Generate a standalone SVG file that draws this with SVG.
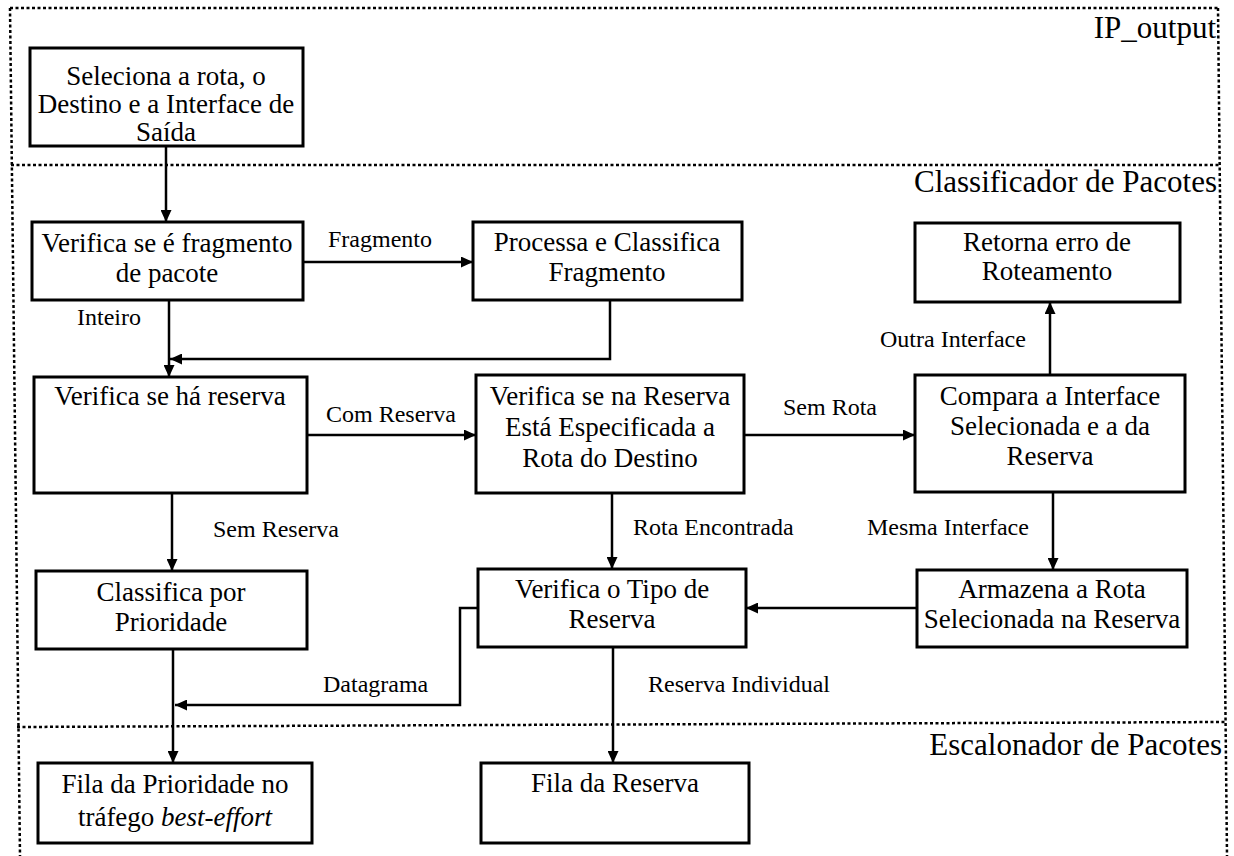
<svg xmlns="http://www.w3.org/2000/svg" width="1234" height="856" viewBox="0 0 1234 856">
  <style>
    .zone { fill: none; stroke: #000; stroke-width: 2.5; stroke-dasharray: 3 2.5; }
    .box { fill: #fff; stroke: #000; stroke-width: 3; }
    .node { font-family: "Liberation Serif", "Times New Roman", serif; font-size: 27px; fill: #000; text-anchor: middle; }
    .lbl { font-family: "Liberation Serif", "Times New Roman", serif; font-size: 24px; fill: #000; }
    .title { font-family: "Liberation Serif", "Times New Roman", serif; font-size: 31px; fill: #000; text-anchor: end; }
    .conn { fill: none; stroke: #000; stroke-width: 2.5; }
  </style>
  <defs>
    <marker id="arrow" viewBox="0 0 12 11" refX="12" refY="5.5" markerWidth="12" markerHeight="11" markerUnits="userSpaceOnUse" orient="auto">
      <path d="M0,0 L12,5.5 L0,11 Z" fill="#000"/>
    </marker>
  </defs>

  <rect width="1234" height="856" fill="#fff"/>

  <!-- processing zones -->
  <g id="zones">
    <path class="zone" d="M10,8 L1218,8"/>
    <path class="zone" d="M10,8 L20,856"/>
    <path class="zone" d="M1218,8 L1227,856"/>
    <path class="zone" d="M11,165 L1220,165"/>
    <path class="zone" d="M17,727 L1226,722"/>
    <text class="title" x="1216" y="38">IP_output</text>
    <text class="title" x="1217" y="192">Classificador de Pacotes</text>
    <text class="title" x="1222" y="755">Escalonador de Pacotes</text>
  </g>

  <!-- connectors -->
  <g id="connectors">
    <path class="conn" d="M166,146 L166,222" marker-end="url(#arrow)"/>
    <path class="conn" d="M303,262 L473,262" marker-end="url(#arrow)"/>
    <text class="lbl" x="328" y="247">Fragmento</text>
    <path class="conn" d="M169,300 L169,377" marker-end="url(#arrow)"/>
    <text class="lbl" x="77" y="325">Inteiro</text>
    <path class="conn" d="M610,300 L610,359 L170,359" marker-end="url(#arrow)"/>
    <path class="conn" d="M307,435 L476,435" marker-end="url(#arrow)"/>
    <text class="lbl" x="326" y="422">Com Reserva</text>
    <path class="conn" d="M744,435 L915,435" marker-end="url(#arrow)"/>
    <text class="lbl" x="783" y="415">Sem Rota</text>
    <path class="conn" d="M1050,375 L1050,302" marker-end="url(#arrow)"/>
    <text class="lbl" x="880" y="347">Outra Interface</text>
    <path class="conn" d="M172,493 L172,571" marker-end="url(#arrow)"/>
    <text class="lbl" x="213" y="537">Sem Reserva</text>
    <path class="conn" d="M612,493 L612,569" marker-end="url(#arrow)"/>
    <text class="lbl" x="633" y="535">Rota Encontrada</text>
    <path class="conn" d="M1053,492 L1053,570" marker-end="url(#arrow)"/>
    <text class="lbl" x="867" y="535">Mesma Interface</text>
    <path class="conn" d="M917,608 L746,608" marker-end="url(#arrow)"/>
    <path class="conn" d="M173,649 L173,763" marker-end="url(#arrow)"/>
    <path class="conn" d="M478,608 L460,608 L460,705 L175,705" marker-end="url(#arrow)"/>
    <text class="lbl" x="323" y="692">Datagrama</text>
    <path class="conn" d="M613,647 L613,763" marker-end="url(#arrow)"/>
    <text class="lbl" x="648" y="692">Reserva Individual</text>
  </g>

  <!-- nodes -->
  <g id="seleciona">
    <rect class="box" x="30" y="48" width="273" height="98"/>
    <text class="node" x="166" y="85">Seleciona a rota, o</text>
    <text class="node" x="166" y="113">Destino e a Interface de</text>
    <text class="node" x="166" y="141">Saída</text>
  </g>
  <g id="verifica-fragmento">
    <rect class="box" x="32" y="222" width="271" height="78"/>
    <text class="node" x="167" y="252">Verifica se é fragmento</text>
    <text class="node" x="167" y="282">de pacote</text>
  </g>
  <g id="processa-fragmento">
    <rect class="box" x="473" y="222" width="269" height="78"/>
    <text class="node" x="607" y="251">Processa e Classifica</text>
    <text class="node" x="607" y="281">Fragmento</text>
  </g>
  <g id="retorna-erro">
    <rect class="box" x="915" y="223" width="265" height="79"/>
    <text class="node" x="1047" y="251">Retorna erro de</text>
    <text class="node" x="1047" y="280">Roteamento</text>
  </g>
  <g id="verifica-reserva">
    <rect class="box" x="34" y="377" width="273" height="116"/>
    <text class="node" x="170" y="405">Verifica se há reserva</text>
  </g>
  <g id="verifica-rota">
    <rect class="box" x="476" y="375" width="268" height="118"/>
    <text class="node" x="610" y="405">Verifica se na Reserva</text>
    <text class="node" x="610" y="436">Está Especificada a</text>
    <text class="node" x="610" y="467">Rota do Destino</text>
  </g>
  <g id="compara-interface">
    <rect class="box" x="915" y="375" width="270" height="117"/>
    <text class="node" x="1050" y="405">Compara a Interface</text>
    <text class="node" x="1050" y="435">Selecionada e a da</text>
    <text class="node" x="1050" y="465">Reserva</text>
  </g>
  <g id="classifica-prioridade">
    <rect class="box" x="36" y="571" width="271" height="78"/>
    <text class="node" x="171" y="601">Classifica por</text>
    <text class="node" x="171" y="631">Prioridade</text>
  </g>
  <g id="verifica-tipo">
    <rect class="box" x="478" y="569" width="268" height="78"/>
    <text class="node" x="612" y="598">Verifica o Tipo de</text>
    <text class="node" x="612" y="628">Reserva</text>
  </g>
  <g id="armazena-rota">
    <rect class="box" x="917" y="570" width="270" height="77"/>
    <text class="node" x="1052" y="598">Armazena a Rota</text>
    <text class="node" x="1052" y="628">Selecionada na Reserva</text>
  </g>
  <g id="fila-prioridade">
    <rect class="box" x="38" y="763" width="274" height="80"/>
    <text class="node" x="175" y="793">Fila da Prioridade no</text>
    <text class="node" x="175" y="826">tráfego <tspan font-style="italic">best-effort</tspan></text>
  </g>
  <g id="fila-reserva">
    <rect class="box" x="481" y="763" width="268" height="80"/>
    <text class="node" x="615" y="792">Fila da Reserva</text>
  </g>
</svg>
